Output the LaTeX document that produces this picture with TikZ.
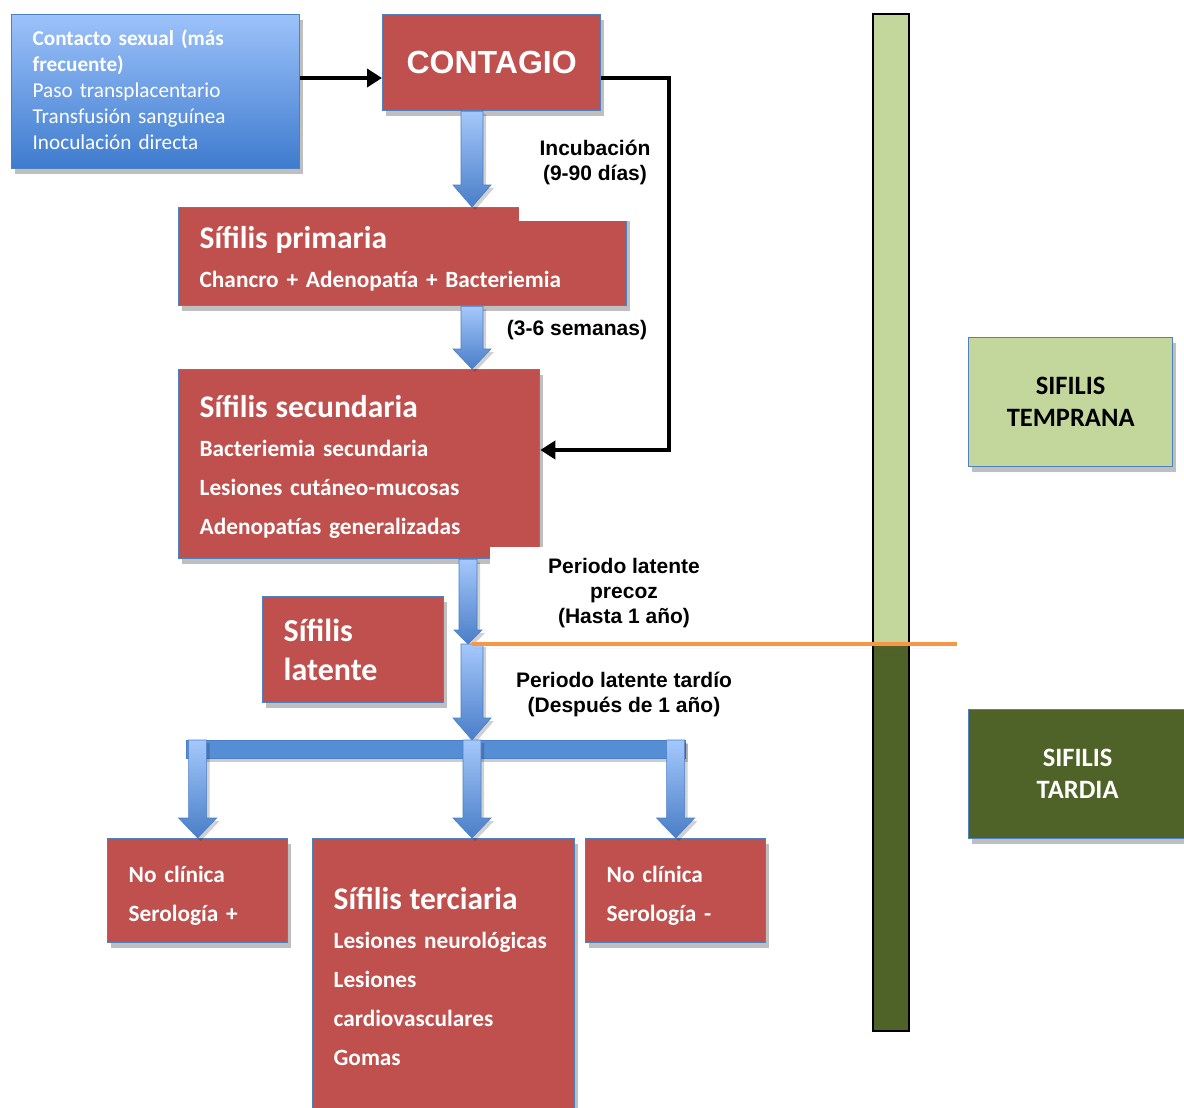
\documentclass[tikz,border=0pt]{standalone}
\usepackage{fontspec}
\setmainfont{Carlito}
\newfontfamily\arialf{Liberation Sans}
\usetikzlibrary{shadows,calc,arrows.meta}

\definecolor{boxred}{HTML}{C0504D}
\definecolor{boxline}{HTML}{4F81BD}
\definecolor{srctop}{HTML}{9CC2FA}
\definecolor{srcbot}{HTML}{3E7BCE}
\definecolor{alight}{HTML}{A4C8FB}
\definecolor{adark}{HTML}{4A7EC8}
\definecolor{barblue}{HTML}{558ED5}
\definecolor{lgreen}{HTML}{C3D69B}
\definecolor{dgreen}{HTML}{4F6228}
\definecolor{orangeline}{HTML}{F79646}

\newcommand\fbody{\bfseries\fontsize{23.3}{39}\selectfont}
\newcommand\ftit{\fontsize{31.5}{39}\selectfont}
\newcommand\flbl{\arialf\bfseries\fontsize{21}{25}\selectfont}

\newcommand\blockarrow[5]{%
  \path[barrowstyle] ($(#1)+(-#3,0)$) -- ($(#2)+(-#3,-#5)$) -- ($(#2)+(-#4,-#5)$) -- (#2)
     -- ($(#2)+(#4,-#5)$) -- ($(#2)+(#3,-#5)$) -- ($(#1)+(#3,0)$) -- cycle;}

\begin{document}
\begin{tikzpicture}[x=1pt,y=-1pt,
  shadowed/.style={drop shadow={shadow xshift=3pt,shadow yshift=-5pt,opacity=.25,fill=black}},
  redbox/.style={shadowed, draw=boxline, line width=1.3pt, fill=boxred, text=white,
     anchor=north west, inner xsep=0pt, inner ysep=0pt, align=left, font=\fbody,
     execute at begin node={\leftskip=21pt}},
  srcbox/.style={shadowed, draw=boxline, line width=1.3pt, top color=srctop, bottom color=srcbot,
     text=white, anchor=north west, inner xsep=0pt, inner ysep=0pt, align=left,
     font=\fontsize{21.2}{26}\selectfont, execute at begin node={\leftskip=21pt}},
  greenbox/.style={shadowed, draw=boxline, line width=1.3pt, anchor=north west, align=center,
     font=\bfseries\fontsize{26.5}{32}\selectfont},
  lbl/.style={font=\flbl, align=center, inner sep=0pt},
  blkarrow/.style={line width=4pt, line join=miter, -{Triangle[length=15pt,width=18pt]}},
  barrowstyle/.style={top color=alight, bottom color=adark, draw=adark, line width=.6pt,
     drop shadow={shadow xshift=3pt,shadow yshift=-3pt,opacity=.18,fill=black}},
  barstyle/.style={fill=barblue, draw=adark, line width=.8pt,
     drop shadow={shadow xshift=3pt,shadow yshift=-4pt,opacity=.2,fill=black}}
]
\fill[white] (0,0) rectangle (1184,1108);
\useasboundingbox (0,0) rectangle (1184,1108);

% time bar
\draw[fill=lgreen, line width=2pt] (873,14) rectangle (909,644);
\draw[fill=dgreen, line width=2pt] (873,644) rectangle (909,1031);

% boxes
\node[srcbox, minimum width=288pt, text width=288pt, minimum height=154pt, text depth=108pt] (src) at (11,14)
  {{\bfseries Contacto sexual (más\\frecuente)}\\Paso transplacentario\\Transfusión sanguínea\\Inoculación directa};
\node[shadowed, draw=boxline, line width=1.3pt, fill=boxred, text=white, anchor=north west,
  minimum width=218pt, minimum height=96pt, font=\arialf\bfseries\fontsize{32}{36}\selectfont]
  (contagio) at (382,14) {CONTAGIO};
\node[redbox, minimum width=448pt, text width=448pt, minimum height=98pt, text depth=38pt] (prim) at (178,207)
  {{\ftit Sífilis primaria}\\Chancro + Adenopatía + Bacteriemia};
\node[redbox, minimum width=361pt, text width=361pt, minimum height=189pt, text depth=116pt] (sec) at (178,369)
  {{\ftit Sífilis secundaria}\\Bacteriemia secundaria\\Lesiones cutáneo-mucosas\\Adenopatías generalizadas};
\node[redbox, minimum width=181pt, text width=181pt, minimum height=106pt,
  font=\bfseries\fontsize{32}{39}\selectfont] (lat) at (262,596) {Sífilis\\latente};
\node[redbox, minimum width=180pt, text width=180pt, minimum height=104pt, text depth=32pt] (ncpos) at (107,838)
  {No clínica\\Serología +};
\node[redbox, minimum width=262pt, text width=262pt, minimum height=276pt] (terc) at (312,838)
  {{\ftit Sífilis terciaria}\\Lesiones neurológicas\\Lesiones\\cardiovasculares\\Gomas};
\node[redbox, minimum width=180pt, text width=180pt, minimum height=104pt, text depth=32pt] (ncneg) at (585,838)
  {No clínica\\Serología -};
\node[greenbox, fill=lgreen, text=black, minimum width=204pt, minimum height=129pt] (temprana)
  at (968,337) {SIFILIS\\TEMPRANA};
\node[greenbox, fill=dgreen, text=white, minimum width=218pt, minimum height=129pt] (tardia)
  at (968,709) {SIFILIS\\TARDIA};

% label backgrounds and labels
\fill[white] (519,128) rectangle (662,221);
\node[lbl] (incub) at (595,162) {Incubación\\(9-90 días)};
\node[lbl] (sem) at (577,330) {(3-6 semanas)};
\fill[white] (490,547) rectangle (760,636);
\node[lbl] (precoz) at (624,593) {Periodo latente\\precoz\\(Hasta 1 año)};
\node[lbl] (tardio) at (624,694) {Periodo latente tardío\\(Después de 1 año)};

% black connectors
\coordinate (ya) at (0,78);
\coordinate (xb) at (669,0);
\coordinate (yb) at (0,450);
\draw[blkarrow] (src.east |- ya) -- (contagio.west |- ya);
\draw[blkarrow] (contagio.east |- ya) -| (xb |- yb) -- (sec.east |- yb);

% block arrows
\coordinate (axis) at (472,0);
\coordinate (axisb) at (468,0);
\coordinate (split) at (468,644);
\coordinate (bartop) at (0,740);
\coordinate (barL) at (186,740);
\coordinate (barR) at (685,758);
\blockarrow{axis |- contagio.south}{axis |- prim.north}{11}{19}{22}
\blockarrow{axis |- prim.south}{axis |- sec.north}{11}{19}{20}
\blockarrow{axisb |- sec.south}{split}{9}{14}{14}
\blockarrow{axis |- split}{axis |- bartop}{11}{19}{22}
\draw[barstyle] (barL) rectangle (barR);
\blockarrow{ncpos.north |- bartop}{ncpos.north}{9}{19}{20}
\blockarrow{axis |- bartop}{axis |- terc.north}{9}{19}{20}
\blockarrow{ncneg.north |- bartop}{ncneg.north}{9}{19}{20}

% orange divider
\coordinate (orangeend) at (957,644);
\draw[orangeline, line width=4pt,
  drop shadow={shadow xshift=2pt,shadow yshift=-4pt,opacity=.2,fill=black}]
  (axis |- split) -- (orangeend);
\end{tikzpicture}
\end{document}
